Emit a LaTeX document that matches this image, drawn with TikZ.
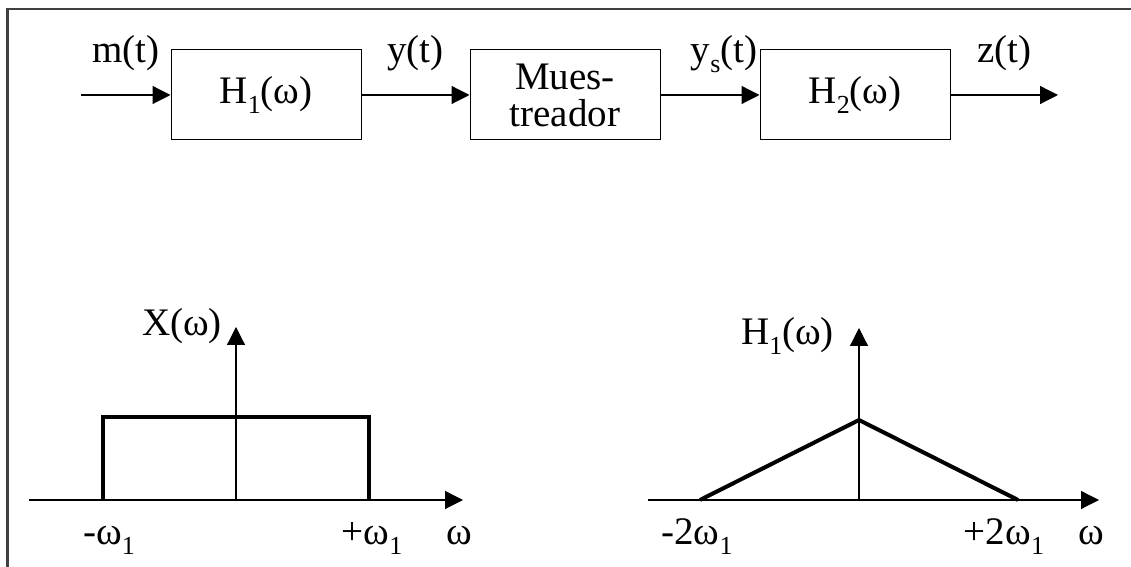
\documentclass[tikz,border=0pt]{standalone}
\usepackage{fontspec}
\setmainfont{Liberation Serif}
\usetikzlibrary{arrows.meta,positioning}
\newcommand{\lo}[1]{\raisebox{-5pt}{\fontsize{13}{13}\selectfont #1}}

\begin{document}
\begin{tikzpicture}[x=1pt,y=1pt,node distance=54pt,>={Triangle[length=9pt,width=9pt]},
font=\fontsize{19.5}{18.5}\selectfont,
blk/.style={draw,line width=.5pt,minimum width=95pt,minimum height=45pt,align=center,inner sep=1pt},
flow/.style={->,line width=.6pt},
sig/.style={anchor=base,inner sep=0pt},
curve/.style={line width=2pt,line join=miter}]
\useasboundingbox (0,0) rectangle (565.5,283.5);
\draw[line width=1.2pt,black!75] (3.75,-2) |- (570,279);
% diagrama de bloques
\node[blk] (h1) at (133,236) {H\lo{1}(ω)};
\node[blk,right=of h1] (mues) {Mues-\\treador};
\node[blk,right=49.5pt of mues] (h2) {H\lo{2}(ω)};
\coordinate (in) at (40.5,236);
\coordinate (out) at (529,236);
\draw[flow] (in)--node[sig,yshift=16pt]{m(t)}(h1);
\draw[flow] (h1)--node[sig,yshift=16pt]{y(t)}(mues);
\draw[flow] (mues)--node[sig,yshift=16pt,xshift=7pt]{y\lo{s}(t)}(h2);
\draw[flow] (h2)--node[sig,yshift=16pt]{z(t)}(out);
% espectro de entrada
\coordinate (o1) at (118,33.5);
\draw[flow] (14.5,33.5)--(231.5,33.5);
\draw[flow] (o1)--(118,120);
\draw[curve] (51.5,33.5) |- (184.5,75) -- (184.5,33.5);
\node[sig] (xw) at (91,115.5) {X(ω)};
\node[sig] (lw1) at (54.5,11) {-ω\lo{1}};
\node[sig] (rw1) at (186,11) {+ω\lo{1}};
\node[sig] (w1) at (229.8,11) {ω};
% filtro H1
\coordinate (o2) at (429.5,33.5);
\draw[flow] (324,33.5)--(549.5,33.5);
\draw[flow] (o2)--(429.5,119.5);
\draw[curve] (350,33.5)--(429.5,73.5)--(509,33.5);
\node[sig] (hw) at (393.75,111) {H\lo{1}(ω)};
\node[sig] (lw2) at (348.5,11) {-2ω\lo{1}};
\node[sig] (rw2) at (502,11) {+2ω\lo{1}};
\node[sig] (w2) at (545.5,11) {ω};
\end{tikzpicture}
\end{document}
